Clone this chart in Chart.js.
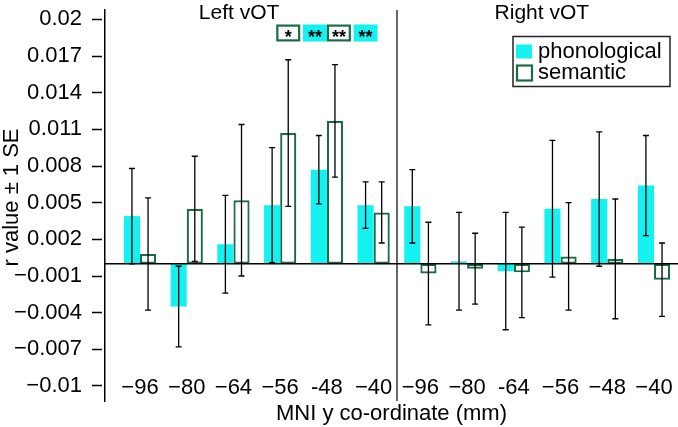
<!DOCTYPE html>
<html>
<head>
<meta charset="utf-8">
<script src="https://cdn.jsdelivr.net/npm/chart.js@4.4.1/dist/chart.umd.min.js"></script>
<style>
  body { margin: 0; background: #fff; }
  #wrap { width: 678px; height: 427px; }
</style>
</head>
<body>
<div id="wrap"><canvas id="chart" width="678" height="427"></canvas></div>
<script>
// MNI y co-ordinates, left vOT then right vOT
const categories = ['−96', '−80', '−64', '−56', '-48', '−40', '−96', '−80', '-64', '−56', '−48', '−40'];
const groups = ['Left vOT', 'Right vOT'];

const phonological = [0.0039, -0.0035, 0.0016, 0.0048, 0.0077, 0.0048, 0.0047, 0.0002, -0.0006, 0.0045, 0.0053, 0.0064];
const phonologicalSE = [0.0039, 0.0033, 0.0040, 0.0047, 0.0028, 0.0019, 0.0030, 0.0040, 0.0048, 0.0056, 0.0055, 0.0041];
const semantic = [0.0008, 0.0045, 0.0052, 0.0107, 0.0117, 0.0042, -0.0008, -0.0004, -0.0007, 0.0006, 0.0004, -0.0013];
const semanticSE = [0.0046, 0.0043, 0.0062, 0.0060, 0.0046, 0.0025, 0.0042, 0.0029, 0.0037, 0.0044, 0.0049, 0.0030];

const yTicks = [-0.01, -0.007, -0.004, -0.001, 0.002, 0.005, 0.008, 0.011, 0.014, 0.017, 0.02];

// significance markers: category index, series (0 phon, 1 sem), text
const sigIndex = [3, 4, 4, 5];
const sigSeries = [1, 0, 1, 0];
const sigText = ['*', '**', '**', '**'];

const FONT = "'Liberation Sans', Arial, sans-serif";
const CYAN = '#14f1f1';
const GREEN = '#1b6b45';

Chart.defaults.font.family = FONT;
Chart.defaults.color = '#000';

const toPoints = arr => arr.map((v, i) => ({ x: i, y: v }));

const overlay = {
  id: 'overlay',
  afterDatasetsDraw(chart) {
    const { ctx, chartArea, scales: { x, y } } = chart;
    ctx.save();

    // error bars
    ctx.strokeStyle = '#000';
    ctx.lineWidth = 1.3;
    chart.data.datasets.forEach((ds, d) => {
      chart.getDatasetMeta(d).data.forEach((bar, i) => {
        const v = ds.data[i].y, se = ds.se[i];
        const top = y.getPixelForValue(v + se), bot = y.getPixelForValue(v - se);
        ctx.beginPath();
        ctx.moveTo(bar.x, top); ctx.lineTo(bar.x, bot);
        ctx.moveTo(bar.x - 3, top); ctx.lineTo(bar.x + 3, top);
        ctx.moveTo(bar.x - 3, bot); ctx.lineTo(bar.x + 3, bot);
        ctx.stroke();
      });
    });

    // zero line
    const y0 = y.getPixelForValue(0);
    ctx.lineWidth = 1.5;
    ctx.beginPath();
    ctx.moveTo(chartArea.left, y0); ctx.lineTo(chartArea.right, y0);
    ctx.stroke();

    // divider between hemispheres
    const xd = x.getPixelForValue(categories.length / 2 - 0.5);
    ctx.lineWidth = 1.2;
    ctx.beginPath();
    ctx.moveTo(xd, chartArea.top); ctx.lineTo(xd, chartArea.bottom);
    ctx.stroke();

    // group labels
    const groupAt = [2.12, 8.6];
    ctx.font = '21px ' + FONT;
    ctx.fillStyle = '#000';
    ctx.textAlign = 'center';
    ctx.textBaseline = 'alphabetic';
    groups.forEach((g, k) => ctx.fillText(g, x.getPixelForValue(groupAt[k]), chartArea.top + 8.5));

    // significance boxes
    const bw = 24, bh = 17, by = 24.5;
    ctx.font = 'bold 18px ' + FONT;
    sigIndex.forEach((ci, k) => {
      const s = sigSeries[k];
      const shared = sigIndex.filter(c => c === ci).length > 1;
      const bar = chart.getDatasetMeta(s).data[ci];
      const cx = shared ? x.getPixelForValue(ci) + (s === 0 ? -bw / 2 : bw / 2) : bar.x;
      if (s === 0) {
        ctx.fillStyle = CYAN;
        ctx.fillRect(cx - bw / 2, by, bw, bh);
      } else {
        ctx.fillStyle = '#fff';
        ctx.fillRect(cx - bw / 2, by, bw, bh);
        ctx.strokeStyle = GREEN;
        ctx.lineWidth = 2.2;
        ctx.strokeRect(cx - bw / 2 + 1.1, by + 1.1, bw - 2.2, bh - 2.2);
      }
      const m = ctx.measureText(sigText[k]);
      ctx.fillStyle = '#000';
      ctx.textBaseline = 'alphabetic';
      ctx.fillText(sigText[k], cx, by + bh / 2 + (m.actualBoundingBoxAscent - m.actualBoundingBoxDescent) / 2);
    });

    // legend
    const lx = chartArea.right - 165, ly = 36.5;
    ctx.strokeStyle = '#222';
    ctx.lineWidth = 1.5;
    ctx.strokeRect(lx, ly, 157, 50);
    ctx.font = '22px ' + FONT;
    ctx.textAlign = 'left';
    ctx.textBaseline = 'middle';
    chart.data.datasets.forEach((ds, d) => {
      const ry = ly + 15 + d * 21;
      if (d === 0) {
        ctx.fillStyle = ds.backgroundColor;
        ctx.fillRect(lx + 3, ry - 7, 16, 14);
      } else {
        ctx.strokeStyle = ds.borderColor;
        ctx.lineWidth = 2.2;
        ctx.strokeRect(lx + 4, ry - 7, 15, 15);
      }
      ctx.fillStyle = '#000';
      ctx.fillText(ds.label, lx + 25, ry);
    });

    // y axis title
    ctx.translate(12, (chartArea.top + chartArea.bottom) / 2 - 8);
    ctx.rotate(-Math.PI / 2);
    ctx.textAlign = 'center';
    ctx.fillText('r value ± 1 SE', 0, 0);

    ctx.restore();
  }
};

new Chart(document.getElementById('chart'), {
  type: 'bar',
  data: {
    datasets: [
      {
        label: 'phonological',
        data: toPoints(phonological),
        se: phonologicalSE,
        backgroundColor: CYAN,
        borderWidth: 0
      },
      {
        label: 'semantic',
        data: toPoints(semantic),
        se: semanticSE,
        backgroundColor: '#fff',
        borderColor: GREEN,
        borderWidth: 2.2,
        borderSkipped: false
      }
    ]
  },
  options: {
    responsive: false,
    animation: false,
    layout: { padding: { top: 10, left: 0, right: 0, bottom: 0 } },
    categoryPercentage: 0.69,
    barPercentage: 1,
    plugins: { legend: { display: false }, tooltip: { enabled: false } },
    scales: {
      x: {
        type: 'linear',
        offset: false,
        min: -0.749,
        max: 11.514,
        afterBuildTicks: s => { s.ticks = categories.map((c, i) => ({ value: i })); },
        afterFit: s => { s.height = 26; s.paddingLeft = 0; s.paddingRight = 0; },
        grid: { display: false, drawTicks: false, offset: false },
        border: { display: false },
        ticks: {
          autoSkip: false,
          maxRotation: 0,
          mirror: true,
          padding: 0,
          font: { size: 22 },
          color: '#000',
          callback: v => categories[Math.round(v)]
        },
        title: { display: true, text: 'MNI y co-ordinate (mm)', font: { size: 22 }, color: '#000', padding: 0 }
      },
      y: {
        min: -0.01123,
        max: 0.02077,
        afterBuildTicks: s => { s.ticks = yTicks.map(v => ({ value: v })); },
        afterFit: s => { s.width = 105; s.paddingTop = 0; s.paddingBottom = 0; },
        grid: {
          drawOnChartArea: false,
          tickLength: 13,
          tickColor: '#000',
          tickWidth: 1.5,
          tickBorderDash: [10, 3]
        },
        border: { display: true, color: '#000', width: 1.5 },
        ticks: {
          padding: 10,
          font: { size: 22 },
          color: '#000',
          callback: v => String(v).replace('-', '−')
        }
      }
    }
  },
  plugins: [overlay]
});
</script>
</body>
</html>
